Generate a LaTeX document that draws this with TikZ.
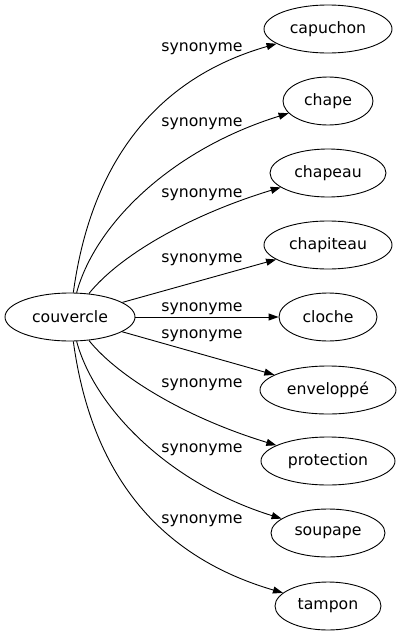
\documentclass[tikz,border=0pt]{standalone}
\usepackage{fontspec}
\setmainfont{DejaVu Sans}
\usetikzlibrary{arrows.meta,shapes.geometric}
\tikzset{
  word/.style={draw, ellipse, inner sep=0pt, minimum height=48pt, line width=0.9pt, font=\fontsize{15.7}{18}\selectfont},
  rel/.style={line width=0.9pt, -{Triangle[length=10pt,width=7pt]}},
  lbl/.style={anchor=base, inner sep=0pt, font=\fontsize{15.7}{18}\selectfont}
}
\begin{document}
\begin{tikzpicture}[x=1pt,y=-1pt]
\useasboundingbox (0,0) rectangle (402,635);
\node[word, minimum width=130pt] (couvercle) at (70,317) {couvercle};
\node[word, minimum width=128pt] (capuchon) at (328,29) {capuchon};
\node[word, minimum width=90pt] (chape) at (328,101) {chape};
\node[word, minimum width=116pt] (chapeau) at (328,173) {chapeau};
\node[word, minimum width=128pt] (chapiteau) at (328,245) {chapiteau};
\node[word, minimum width=98pt] (cloche) at (328,317) {cloche};
\node[word, minimum width=136pt] (enveloppe) at (328,390) {enveloppé};
\node[word, minimum width=134pt] (protection) at (328,461) {protection};
\node[word, minimum width=114pt] (soupape) at (328,533) {soupape};
\node[word, minimum width=106pt] (tampon) at (328,606) {tampon};

\draw[rel] (couvercle) .. controls (90,170) and (150,80) .. (capuchon);
\draw[rel] (couvercle) .. controls (95,225) and (170,150) .. (chape);
\draw[rel] (couvercle) .. controls (120,255) and (190,215) .. (chapeau);
\draw[rel] (couvercle) -- (chapiteau);
\draw[rel] (couvercle) -- (cloche);
\draw[rel] (couvercle) -- (enveloppe);
\draw[rel] (couvercle) .. controls (120,379) and (190,419) .. (protection);
\draw[rel] (couvercle) .. controls (95,409) and (170,484) .. (soupape);
\draw[rel] (couvercle) .. controls (90,464) and (150,554) .. (tampon);

\node[lbl] (l1) at (202,51) {synonyme};
\node[lbl] (l2) at (202,126) {synonyme};
\node[lbl] (l3) at (202,197) {synonyme};
\node[lbl] (l4) at (202,262) {synonyme};
\node[lbl] (l5) at (202,311) {synonyme};
\node[lbl] (l6) at (202,338) {synonyme};
\node[lbl] (l7) at (202,387) {synonyme};
\node[lbl] (l8) at (202,452) {synonyme};
\node[lbl] (l9) at (202,523) {synonyme};
\end{tikzpicture}
\end{document}
